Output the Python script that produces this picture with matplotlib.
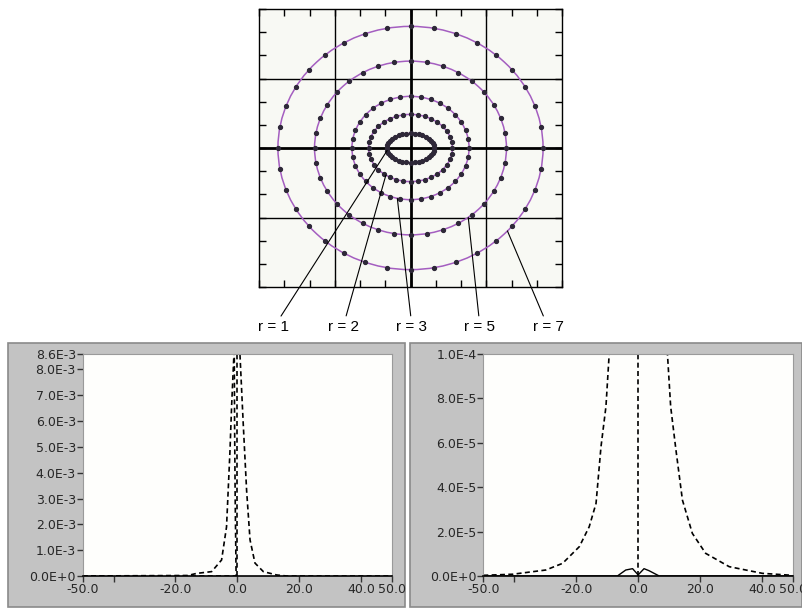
import numpy as np
import matplotlib
matplotlib.use("Agg")
import matplotlib.pyplot as plt
from matplotlib.patches import Ellipse, Rectangle

W, H = 802, 610

# --- top plot: orbit rings ---
ring_labels = ['r = 1', 'r = 2', 'r = 3', 'r = 5', 'r = 7']
ring_half_w = [0.94, 1.66, 2.32, 3.80, 5.25]
ring_half_h = [0.63, 1.45, 2.23, 3.75, 5.25]
ring_n_points = 36
leader_angle = [190, 234, 257, 307, 317]      # degrees, where the leader touches the ring
label_x_px = [274, 343, 412, 480, 548]
label_y_px = 327

# --- bottom left plot (values in units of 1e-3) ---
left_broad_x = [-50, -16, -13.2, -8.3, -5.1, -3.5, -2.4, -1.85, -1.1, 0, 0.84, 1.9, 3.0, 4.1, 5.7, 8.4, 12.7, 16, 50]
left_broad_y = [0, 0.02, 0.10, 0.17, 0.62, 1.9, 4.8, 6.6, 8.6, 10.5, 8.6, 5.9, 3.3, 1.4, 0.5, 0.17, 0.04, 0, 0]
left_narrow_x = [-50, -0.4, -0.5, -0.7, -0.9, -1.0, -0.8, 0]
left_narrow_y = [0, 0, 1.0, 3.0, 6.0, 8.6, 10.0, 12.0]
left_center_x = [0, 0]
left_center_y = [0, 9.0]
left_yticks = [0, 1, 2, 3, 4, 5, 6, 7, 8, 8.6]
left_ylabels = ['0.0E+0', '1.0E-3', '2.0E-3', '3.0E-3', '4.0E-3', '5.0E-3',
                '6.0E-3', '7.0E-3', '8.0E-3', '8.6E-3']

# --- bottom right plot (dashed in units of 1e-5, solid in units of 1e-6) ---
right_dash_x = [-50, -40.5, -29.8, -24.4, -19.0, -15.8, -13.6, -12.0, -10.4, -9.35, -8,
                8, 9.46, 10.5, 12.2, 14.3, 17.5, 21.8, 29.4, 40.1, 49.8]
right_dash_y = [0.03, 0.08, 0.27, 0.57, 1.32, 2.22, 3.27, 5.82, 7.63, 10, 14,
                14, 10, 7.63, 5.68, 3.42, 1.92, 1.02, 0.42, 0.12, 0.03]
right_center_x = [0, 0]
right_center_y = [0, 11.0]
right_solid_x = [-50, -6.7, -4.0, -1.8, 0, 1.9, 3.5, 6.8, 50]
right_solid_y = [0, 0, 2.7, 3.3, 0.5, 3.3, 2.4, 0, 0]
right_yticks = [0, 2, 4, 6, 8, 10]
right_ylabels = ['0.0E+0', '2.0E-5', '4.0E-5', '6.0E-5', '8.0E-5', '1.0E-4']

x_ticks = [-50, -40, -20, 0, 20, 40, 50]
x_labels = ['-50.0', '', '-20.0', '0.0', '20.0', '40.0', '50.0']


def px_box(l, t, r, b):
    return [l / W, 1 - b / H, (r - l) / W, (b - t) / H]


fig = plt.figure(figsize=(W / 100, H / 100), dpi=100)
fig.patch.set_facecolor('white')

# gray panels behind the two graphs
for l, r in [(8, 405), (410, 802)]:
    fig.add_artist(Rectangle((l / W, 1 - 607 / H), (r - l) / W, (607 - 343) / H,
                             transform=fig.transFigure, facecolor='#c3c3c3',
                             edgecolor='#8a8a8a', lw=1.2, zorder=-1))

# top plot
ax = fig.add_axes(px_box(259, 9, 562, 287))
ax.set_facecolor('#f8f9f4')
ax.set_xlim(-6, 6)
ax.set_ylim(-6, 6)
ax.set_xticks(np.arange(-6, 7, 1))
ax.set_yticks(np.arange(-6, 7, 1))
ax.tick_params(direction='in', length=5, width=1, top=True, right=True,
               labelbottom=False, labelleft=False, color='black')
for s in ax.spines.values():
    s.set_color('black')
    s.set_linewidth(1)
for g in [-3, 3]:
    ax.axvline(g, color='black', lw=1, zorder=1)
    ax.axhline(g, color='black', lw=1, zorder=1)
ax.axvline(0, color='black', lw=2, zorder=1)
ax.axhline(0, color='black', lw=2, zorder=1)

ang = np.deg2rad(np.arange(ring_n_points) * 360.0 / ring_n_points)
for i in range(len(ring_labels)):
    w, h = ring_half_w[i], ring_half_h[i]
    ax.add_patch(Ellipse((0, 0), 2 * w, 2 * h, fill=False, edgecolor='#a45ec0', lw=1.1, zorder=2))
    ax.plot(w * np.cos(ang), h * np.sin(ang), 'o', ms=2.8, color='#2e2838', zorder=3)
    a = np.deg2rad(leader_angle[i])
    ax.annotate(ring_labels[i], xy=(w * np.cos(a), h * np.sin(a)), xycoords='data',
                xytext=(label_x_px[i], H - label_y_px), textcoords='figure pixels',
                ha='center', va='center', fontsize=11, family='Liberation Sans',
                arrowprops=dict(arrowstyle='-', color='black', lw=0.8, shrinkA=1, shrinkB=0),
                annotation_clip=False, zorder=4)


def style_bottom(ax, yticks, ylabels, ytop):
    ax.set_facecolor('#fefefc')
    ax.set_xlim(-50, 50)
    ax.set_ylim(0, ytop)
    ax.set_xticks(x_ticks)
    ax.set_xticklabels(x_labels)
    ax.set_yticks(yticks)
    ax.set_yticklabels(ylabels)
    ax.tick_params(direction='out', length=4, width=1, color='#333333',
                   labelsize=9, labelcolor='#262626', pad=1)
    for side in ['left', 'top', 'right']:
        ax.spines[side].set_color('#9a9a9a')
        ax.spines[side].set_linewidth(0.8)
    ax.spines['bottom'].set_color('black')
    ax.spines['bottom'].set_linewidth(1.2)


dash = (0, (3, 2))

axl = fig.add_axes(px_box(82.7, 354, 392, 576))
style_bottom(axl, left_yticks, left_ylabels, 8.6)
axl.plot(left_broad_x, left_broad_y, color='black', lw=1.2, ls=dash)
axl.plot(left_narrow_x, left_narrow_y, color='black', lw=1.2, ls=dash)
axl.plot(left_center_x, left_center_y, color='black', lw=1.2, ls=dash)

axr = fig.add_axes(px_box(483.3, 354, 793, 576))
style_bottom(axr, right_yticks, right_ylabels, 10)
axr.plot(right_dash_x, right_dash_y, color='black', lw=1.2, ls=dash)
axr.plot(right_center_x, right_center_y, color='black', lw=1.2, ls=dash)
axr.plot(right_solid_x, np.array(right_solid_y) / 10.0, color='black', lw=1.0)

fig.savefig('out.png', dpi=100)
